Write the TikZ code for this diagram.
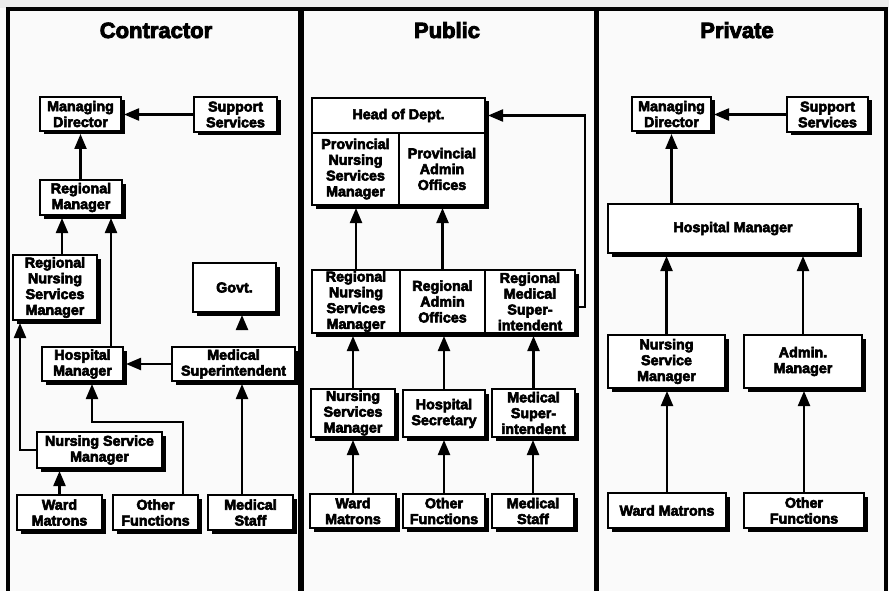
\documentclass[tikz,border=0pt]{standalone}
\usepackage{fontspec}
\setmainfont{Liberation Sans}[BoldFont={Liberation Sans Bold}, BoldFeatures={FakeBold=4}]
\usetikzlibrary{arrows.meta,shadows}
\tikzset{
  txt/.style={font=\bfseries\fontsize{14.3}{15.8}\selectfont, align=center, inner sep=0pt, outer sep=0pt},
  boxst/.style={txt, draw, line width=2.2pt, fill=white,
    drop shadow={shadow xshift=3.5pt, shadow yshift=-3.5pt, fill=black, opacity=1}},
  cellst/.style={txt},
  title/.style={font=\bfseries\fontsize{22}{25}\selectfont, anchor=base, inner sep=0pt},
  arr/.style={line width=2.2pt, -{Triangle[length=15pt,width=12pt]}, shorten >=3pt},
  divline/.style={line width=2.2pt}
}
\newcommand\bx[6]{\node[boxst, minimum width={#4-#2}, minimum height={#5-#3}] (#1) at ({(#2+#4)/2},{(#3+#5)/2}) {#6};}
\newcommand\cellnode[6]{\node[cellst, minimum width={#4-#2}, minimum height={#5-#3}] (#1) at ({(#2+#4)/2},{(#3+#5)/2}) {#6};}
\begin{document}
\begin{tikzpicture}[x=1pt,y=-1pt]
\fill[gray!4] (0,0) rectangle (889,591);
\useasboundingbox (0,0) rectangle (889,591);
\fill[gray!15] (0,0) rectangle (889,8);
% frame
\draw[line width=3.5pt] (8,591) -- (8,9) -- (886,9) -- (886,591);
\draw[line width=5.5pt] (301,9) -- (301,591);
\draw[line width=5pt] (596,9) -- (596,591);
% titles
\node[title] (t1) at (156,38) {Contractor};
\node[title] (t2) at (447,38) {Public};
\node[title] (t3) at (737,38) {Private};

% ---------- Contractor ----------
\bx{md1}{40}{97}{121}{131}{Managing\\Director}
\bx{ss1}{194}{97}{277}{132}{Support\\Services}
\bx{rm1}{40}{180}{122}{215}{Regional\\Manager}
\bx{rnsm1}{13}{255}{97}{320}{Regional\\Nursing\\Services\\Manager}
\bx{govt}{193}{263}{276}{312}{Govt.}
\bx{hm1}{42}{347}{123}{381}{Hospital\\Manager}
\bx{msup1}{172}{347}{295}{381}{Medical\\Superintendent}
\bx{nsm1}{37}{432}{162}{468}{Nursing Service\\Manager}
\bx{wm1}{17}{495}{102}{530}{Ward\\Matrons}
\bx{of1}{113}{495}{198}{530}{Other\\Functions}
\bx{mst1}{208}{495}{293}{530}{Medical\\Staff}

\draw[arr] (ss1.west) -- (ss1.west -| md1.east);
\draw[arr] (md1.south |- rm1.north) -- (md1.south);
\draw[arr] (62,0 |- rnsm1.north) -- (62,0 |- rm1.south);
\draw[arr] (111,0 |- hm1.north) -- (111,0 |- rm1.south);
\draw[arr] (msup1.west) -- (msup1.west -| hm1.east);
\draw[arr, shorten <=17pt] (242,0 |- msup1.north) -- (242,0 |- govt.south);
\draw[arr] (nsm1.west) -| (20,0 |- rnsm1.south);
\draw[arr] (wm1.north) -- (wm1.north |- nsm1.south);
\coordinate (bend1) at (92,422);
\draw[arr] (183,0 |- of1.north) |- (bend1) -- (bend1 |- hm1.south);
\draw[arr] (242,0 |- mst1.north) -- (242,0 |- msup1.south);

% ---------- Public ----------
\bx{hod}{312}{98}{485}{205}{}
\cellnode{hdtop}{312}{98}{485}{133}{Head of Dept.}
\cellnode{pnsm}{312}{133}{399}{205}{Provincial\\Nursing\\Services\\Manager}
\cellnode{pao}{399}{133}{485}{205}{Provincial\\Admin\\Offices}
\draw[divline] (hdtop.south west) -- (hdtop.south east);
\draw[divline] (pnsm.north east) -- (pnsm.south east);

\bx{reg}{312}{270}{575}{333}{}
\cellnode{rnsm2}{312}{270}{400}{333}{Regional\\Nursing\\Services\\Manager}
\cellnode{rao}{400}{270}{485}{333}{Regional\\Admin\\Offices}
\cellnode{rmsi}{485}{270}{575}{333}{Regional\\Medical\\Super-\\intendent}
\draw[divline] (rnsm2.north east) -- (rnsm2.south east);
\draw[divline] (rao.north east) -- (rao.south east);

\bx{nsm2}{311}{389}{395}{437}{Nursing\\Services\\Manager}
\bx{hs}{403}{390}{485}{437}{Hospital\\Secretary}
\bx{msup2}{492}{389}{575}{437}{Medical\\Super-\\intendent}
\bx{wm2}{310}{494}{396}{528}{Ward\\Matrons}
\bx{of2}{403}{494}{485}{528}{Other\\Functions}
\bx{mst2}{492}{494}{574}{528}{Medical\\Staff}

\draw[arr] (rnsm2.north) -- (rnsm2.north |- pnsm.south);
\draw[arr] (rao.north) -- (rao.north |- pao.south);
\coordinate (bend2) at (585,307);
\draw[arr] (rmsi.east |- bend2) -- (bend2) |- (hdtop.east);
\draw[arr] (nsm2.north) -- (nsm2.north |- rnsm2.south);
\draw[arr] (hs.north) -- (hs.north |- rao.south);
\draw[arr] (msup2.north) -- (msup2.north |- rmsi.south);
\draw[arr] (wm2.north) -- (wm2.north |- nsm2.south);
\draw[arr] (of2.north) -- (of2.north |- hs.south);
\draw[arr] (mst2.north) -- (mst2.north |- msup2.south);

% ---------- Private ----------
\bx{md3}{632}{97}{711}{131}{Managing\\Director}
\bx{ss3}{787}{97}{868}{132}{Support\\Services}
\bx{hm3}{608}{204}{858}{253}{Hospital Manager}
\bx{nsm3}{608}{335}{725}{388}{Nursing\\Service\\Manager}
\bx{am3}{744}{335}{862}{388}{Admin.\\Manager}
\bx{wm3}{608}{493}{726}{528}{Ward Matrons}
\bx{of3}{744}{493}{864}{528}{Other\\Functions}

\draw[arr] (ss3.west) -- (ss3.west -| md3.east);
\draw[arr] (md3.south |- hm3.north) -- (md3.south);
\draw[arr] (nsm3.north) -- (nsm3.north |- hm3.south);
\draw[arr] (am3.north) -- (am3.north |- hm3.south);
\draw[arr] (wm3.north) -- (wm3.north |- nsm3.south);
\draw[arr] (of3.north) -- (of3.north |- am3.south);
\end{tikzpicture}
\end{document}
